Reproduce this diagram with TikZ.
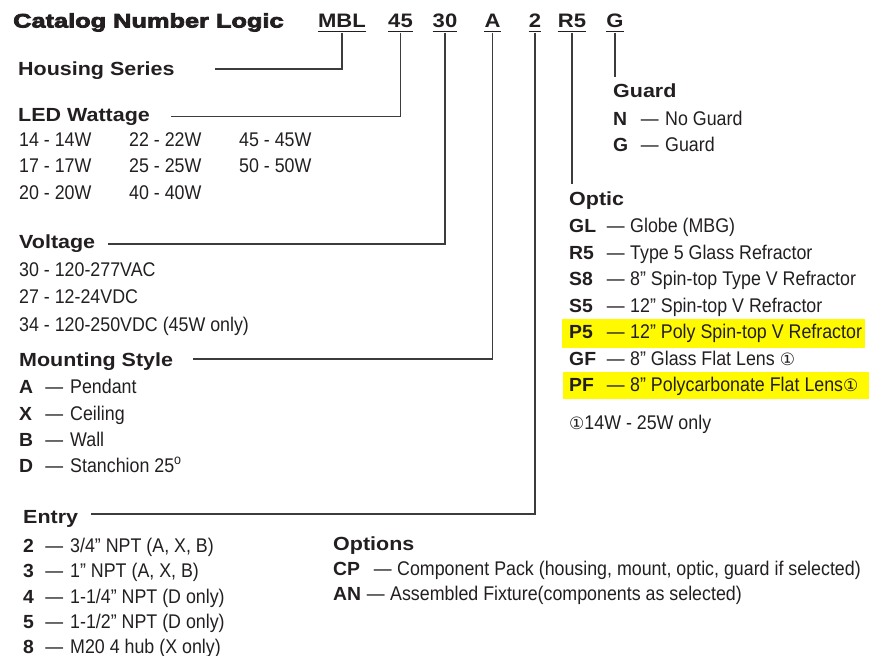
\documentclass[tikz,border=0pt]{standalone}
\usepackage{fontspec}
\setmainfont{Liberation Sans}
\newfontfamily\bodyf[FakeStretch=0.9]{Liberation Sans}
\newfontfamily\headf[FakeStretch=1.13]{Liberation Sans}
\newfontfamily\keyf[FakeStretch=1.02]{Liberation Sans}
\newfontface\titlef[FakeStretch=1.3,FakeBold=4]{Liberation Sans Bold}
\newfontfamily\symf{DejaVu Sans}
\definecolor{ink}{RGB}{35,31,32}
\definecolor{linec}{RGB}{60,60,60}
\definecolor{hl}{RGB}{255,250,0}
\tikzset{
  txt/.style={inner sep=0pt, anchor=base west, text=ink, font=\bodyf\fontsize{19.8}{20}\selectfont},
  hd/.style={inner sep=0pt, anchor=base west, text=ink, font=\headf\bfseries\fontsize{19}{20}\selectfont},
  keyt/.style={inner sep=0pt, anchor=base west, text=ink, font=\keyf\bfseries\fontsize{19}{20}\selectfont},
  dsh/.style={inner sep=0pt, anchor=base east, text=ink, font=\bodyf\fontsize{19.8}{20}\selectfont},
  codet/.style={inner sep=0pt, anchor=base, text=ink, font=\headf\bfseries\fontsize{19.5}{20}\selectfont},
  ttl/.style={inner sep=0pt, anchor=base west, text=ink, font=\titlef\fontsize{19.5}{20}\selectfont},
  conn/.style={draw=linec, line width=1.3pt},
  uline/.style={draw=ink, line width=1.5pt}
}
\begin{document}
\begin{tikzpicture}[x=1pt,y=-1pt]
\useasboundingbox (0,0) rectangle (873,656);
% highlights
\fill[hl] (562,319) rectangle (865,347.5);
\fill[hl] (563,371.5) rectangle (869,399);
% title and codes
\node[ttl] (title) at (13,27.5) {Catalog Number Logic};
\node[codet] (cMBL) at (342,27.5) {MBL};
\node[codet] (c45) at (400.5,27.5) {45};
\node[codet] (c30) at (445,27.5) {30};
\node[codet] (cA) at (492.5,27.5) {A};
\node[codet] (c2) at (535,27.5) {2};
\node[codet] (cR5) at (572,27.5) {R5};
\node[codet] (cG) at (615,27.5) {G};
\foreach \c in {cMBL,c45,c30,cA,c2,cR5,cG}{
  \draw[uline] ([yshift=-4pt]\c.base west) -- ([yshift=-4pt]\c.base east);
}
% headings
\node[hd] (hHousing) at (18,75) {Housing Series};
\node[hd] (hLED) at (18,121) {LED Wattage};
\node[hd] (hVolt) at (19,248) {Voltage};
\node[hd] (hMount) at (19,366) {Mounting Style};
\node[hd] (hEntry) at (23,523) {Entry};
\node[hd] (hOpt) at (333,550) {Options};
\node[hd] (hGuard) at (613,97) {Guard};
\node[hd] (hOptic) at (569,205.7) {Optic};
% connector ends
\coordinate (eHousing) at (215,69);
\coordinate (eLED) at (171,116.5);
\coordinate (eVolt) at (108,244);
\coordinate (eMount) at (193,359);
\coordinate (eEntry) at (91,514);
\coordinate (eOptic) at (572,184);
\coordinate (eGuard) at (615,77);
\draw[conn] ([yshift=-5pt]cMBL.base) |- (eHousing);
\draw[conn] ([yshift=-5pt]c45.base) |- (eLED);
\draw[conn] ([yshift=-5pt]c30.base) |- (eVolt);
\draw[conn] ([yshift=-5pt]cA.base) |- (eMount);
\draw[conn] ([yshift=-5pt]c2.base) |- (eEntry);
\draw[conn] ([yshift=-5pt]cR5.base) -- (eOptic);
\draw[conn] ([yshift=-5pt]cG.base) -- (eGuard);
% LED wattage table
\node[txt] (w14) at (19,146) {14 - 14W};
\node[txt] (w22) at (129,146) {22 - 22W};
\node[txt] (w45) at (239,146) {45 - 45W};
\node[txt] (w17) at (19,172.5) {17 - 17W};
\node[txt] (w25) at (129,172.5) {25 - 25W};
\node[txt] (w50) at (239,172.5) {50 - 50W};
\node[txt] (w20) at (19,199) {20 - 20W};
\node[txt] (w40) at (129,199) {40 - 40W};
% voltage
\node[txt] (v30) at (19,276) {30 - 120-277VAC};
\node[txt] (v27) at (19,303) {27 - 12-24VDC};
\node[txt] (v34) at (19,331) {34 - 120-250VDC (45W only)};
% mounting
\node[keyt] (mkA) at (19,393) {A};
\node[dsh] (mdA) at (63.5,393) {—};
\node[txt] (mtA) at (70,393) {Pendant};
\node[keyt] (mkX) at (19,420) {X};
\node[dsh] (mdX) at (63.5,420) {—};
\node[txt] (mtX) at (70,420) {Ceiling};
\node[keyt] (mkB) at (19,446) {B};
\node[dsh] (mdB) at (63.5,446) {—};
\node[txt] (mtB) at (70,446) {Wall};
\node[keyt] (mkD) at (19,472) {D};
\node[dsh] (mdD) at (63.5,472) {—};
\node[txt] (mtD) at (70,472) {Stanchion 25\textsuperscript{o}};
% entry
\node[keyt] (ek2) at (23,552) {2};
\node[dsh] (ed2) at (63.5,552) {—};
\node[txt] (et2) at (70,552) {3/4” NPT (A, X, B)};
\node[keyt] (ek3) at (23,577.5) {3};
\node[dsh] (ed3) at (63.5,577.5) {—};
\node[txt] (et3) at (70,577.5) {1” NPT (A, X, B)};
\node[keyt] (ek4) at (23,603) {4};
\node[dsh] (ed4) at (63.5,603) {—};
\node[txt] (et4) at (70,603) {1-1/4” NPT (D only)};
\node[keyt] (ek5) at (23,628.5) {5};
\node[dsh] (ed5) at (63.5,628.5) {—};
\node[txt] (et5) at (70,628.5) {1-1/2” NPT (D only)};
\node[keyt] (ek8) at (23,653) {8};
\node[dsh] (ed8) at (63.5,653) {—};
\node[txt] (et8) at (70,653) {M20 4 hub (X only)};
% options
\node[keyt] (okCP) at (333,575) {CP};
\node[dsh] (odCP) at (392,575) {—};
\node[txt] (otCP) at (397,575) {Component Pack (housing, mount, optic, guard if selected)};
\node[keyt] (okAN) at (333,600) {AN};
\node[dsh] (odAN) at (385,600) {—};
\node[txt] (otAN) at (390,600) {Assembled Fixture(components as selected)};
% guard
\node[keyt] (gkN) at (613,125) {N};
\node[dsh] (gdN) at (659,125) {—};
\node[txt] (gtN) at (665,125) {No Guard};
\node[keyt] (gkG) at (613,151) {G};
\node[dsh] (gdG) at (659,151) {—};
\node[txt] (gtG) at (665,151) {Guard};
% optic
\node[keyt] (pkGL) at (569,232.7) {GL};
\node[dsh] (pdGL) at (625,232.7) {—};
\node[txt] (ptGL) at (630,232.7) {Globe (MBG)};
\node[keyt] (pkR5) at (569,259.2) {R5};
\node[dsh] (pdR5) at (625,259.2) {—};
\node[txt] (ptR5) at (630,259.2) {Type 5 Glass Refractor};
\node[keyt] (pkS8) at (569,285.7) {S8};
\node[dsh] (pdS8) at (625,285.7) {—};
\node[txt] (ptS8) at (630,285.7) {8” Spin-top Type V Refractor};
\node[keyt] (pkS5) at (569,312.2) {S5};
\node[dsh] (pdS5) at (625,312.2) {—};
\node[txt] (ptS5) at (630,312.2) {12” Spin-top V Refractor};
\node[keyt] (pkP5) at (569,338.7) {P5};
\node[dsh] (pdP5) at (625,338.7) {—};
\node[txt] (ptP5) at (630,338.7) {12” Poly Spin-top V Refractor};
\node[keyt] (pkGF) at (569,365.2) {GF};
\node[dsh] (pdGF) at (625,365.2) {—};
\node[txt] (ptGF) at (630,365.2) {8” Glass Flat Lens {\symf\fontsize{17}{18}\selectfont ①}};
\node[keyt] (pkPF) at (569,391.7) {PF};
\node[dsh] (pdPF) at (625,391.7) {—};
\node[txt] (ptPF) at (630,391.7) {8” Polycarbonate Flat Lens{\symf\fontsize{17}{18}\selectfont ①}};
\node[txt] (foot) at (569,429) {{\symf\fontsize{17}{18}\selectfont ①}14W - 25W only};
\end{tikzpicture}
\end{document}
